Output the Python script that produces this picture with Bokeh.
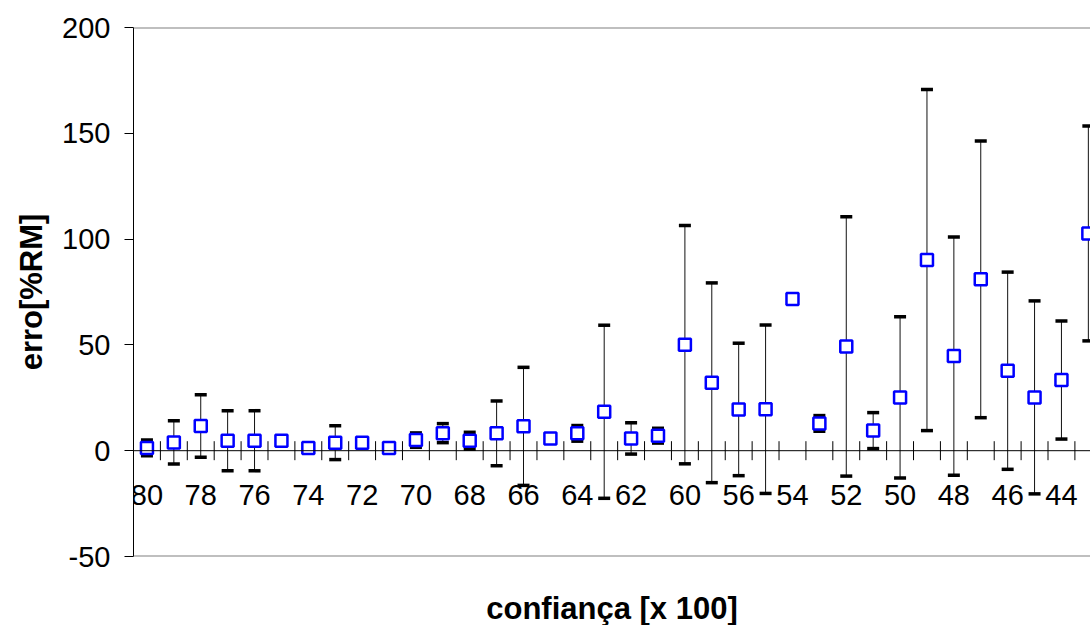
import numpy as np
from bokeh.plotting import figure
from bokeh.models import Range1d, FixedTicker, Span, ColumnDataSource
from bokeh.core.properties import value
from bokeh.embed import file_html
from bokeh.resources import INLINE

# ---- data ----
categories = ["80", "79", "78", "77", "76", "75", "74", "73", "72", "71",
              "70", "69", "68", "67", "66", "65", "64", "63", "62", "61",
              "60", "58", "56", "55", "54", "53", "52", "51", "50", "49",
              "48", "47", "46", "45", "44", "43"]
erro_mean = [1.3, 3.9, 11.7, 4.7, 4.7, 4.7, 1.3, 3.8, 3.8, 1.3,
             5.0, 8.3, 4.7, 8.2, 11.5, 5.8, 8.2, 18.4, 5.8, 7.1,
             50.1, 32.1, 19.5, 19.6, 71.7, 12.9, 49.3, 9.5, 25.2, 90.1,
             44.7, 81.0, 37.8, 25.2, 33.4, 102.7]
erro_dev = [3.7, 10.2, 14.8, 14.2, 14.2, 0.0, 0.0, 8.0, 0.0, 0.0,
            3.4, 4.5, 4.0, 15.3, 27.9, 0.0, 3.7, 40.9, 7.4, 3.5,
            56.3, 47.2, 31.3, 39.8, 0.0, 3.7, 61.3, 8.5, 38.1, 80.6,
            56.3, 65.4, 46.6, 45.6, 27.9, 50.8]
y_ticks = [-50, 0, 50, 100, 150, 200]
label_every = 2

FONT = "Liberation Sans"

n = len(categories)
xs = np.arange(n)
mean = np.array(erro_mean)
dev = np.array(erro_dev)
has = dev > 0

err_src = ColumnDataSource(dict(x=xs[has], lo=(mean - dev)[has], hi=(mean + dev)[has]))
pt_src = ColumnDataSource(dict(x=xs, y=mean))

p = figure(frame_width=957, frame_height=529,
           x_range=Range1d(-0.5, 35.08), y_range=Range1d(-50, 200),
           output_backend="svg", toolbar_location=None,
           min_border_left=133, min_border_top=27, min_border_right=0,
           min_border_bottom=0)
p.outline_line_color = None
p.background_fill_color = "white"
p.border_fill_color = "white"
p.xgrid.visible = False
p.ygrid.visible = False

# y axis
p.yaxis.ticker = FixedTicker(ticks=y_ticks)
p.yaxis.major_label_overrides = {t: str(t) for t in y_ticks}
p.yaxis.minor_tick_line_color = None
p.yaxis.major_tick_out = 9
p.yaxis.major_tick_in = 0
p.yaxis.axis_line_color = "black"
p.yaxis.major_tick_line_color = "black"
p.yaxis.major_label_text_font = FONT
p.yaxis.major_label_text_font_size = "29px"
p.yaxis.major_label_text_color = "black"
p.yaxis.major_label_standoff = 14
p.yaxis.axis_label = "erro[%RM]"
p.yaxis.axis_label_text_font = FONT
p.yaxis.axis_label_text_font_size = "31px"
p.yaxis.axis_label_text_font_style = "bold"
p.yaxis.axis_label_text_color = "black"
p.yaxis.axis_label_standoff = 10

# x axis (title only; the category axis is drawn on y = 0)
p.xaxis.ticker = FixedTicker(ticks=[])
p.xaxis.axis_line_color = None
p.xaxis.major_tick_line_color = None
p.xaxis.minor_tick_line_color = None
p.xaxis.major_tick_out = 0
p.xaxis.major_tick_in = 0
p.xaxis.axis_label = "confiança [x 100]"
p.xaxis.axis_label_text_font = FONT
p.xaxis.axis_label_text_font_size = "31px"
p.xaxis.axis_label_text_font_style = "bold"
p.xaxis.axis_label_text_color = "black"
p.xaxis.axis_label_standoff = 34

# plot-area borders (top / bottom)
p.add_layout(Span(location=y_ticks[-1], dimension="width", line_color="#808080", line_width=2))
p.add_layout(Span(location=y_ticks[0], dimension="width", line_color="#808080", line_width=2))

# category axis crossing at zero
p.add_layout(Span(location=0, dimension="width", line_color="black", line_width=1))
bounds = xs + 0.5
p.scatter(x=bounds, y=np.zeros(n), marker="dash", size=19, angle=np.pi / 2,
          line_color="black", line_width=1)
lab_x = xs[::label_every]
lab_t = categories[::label_every]
p.text(x=lab_x, y=np.zeros(len(lab_x)), text=lab_t, text_font=value(FONT),
       text_font_size="29px", text_align="center", text_baseline="alphabetic",
       y_offset=44, text_color="black")

# error bars
p.segment(x0="x", y0="lo", x1="x", y1="hi", source=err_src, line_color="#111111", line_width=1)
p.scatter(x="x", y="hi", source=err_src, marker="dash", size=12, line_color="black", line_width=3.5)
p.scatter(x="x", y="lo", source=err_src, marker="dash", size=12, line_color="black", line_width=3.5)

# points
p.scatter(x="x", y="y", source=pt_src, marker="square", size=12,
          line_color="#0000FF", line_width=2.5, fill_color="white")

open("out.html", "w").write(file_html(p, INLINE))
